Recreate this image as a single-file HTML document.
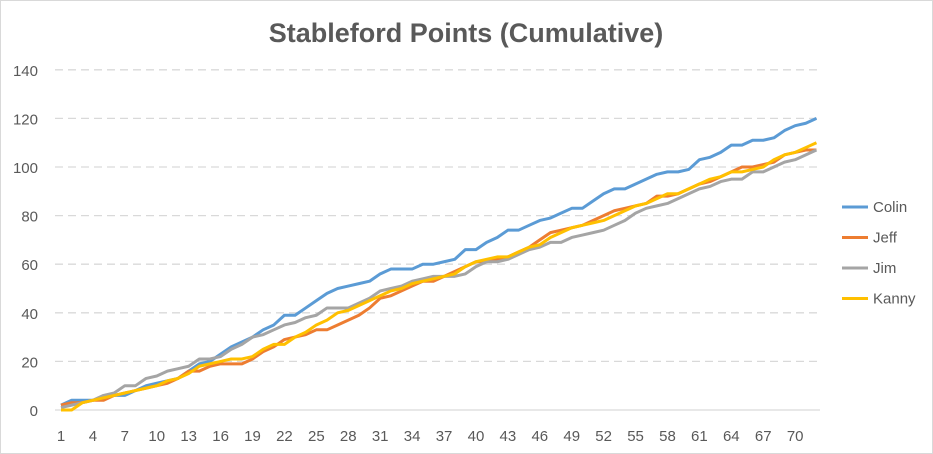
<!DOCTYPE html>
<html><head><meta charset="utf-8"><style>
body{margin:0;background:#fff}
svg{display:block;font-family:"Liberation Sans",sans-serif}
</style></head><body>
<svg width="933" height="454">
<rect x="0.5" y="0.5" width="932" height="453" fill="#fff" stroke="#d9d9d9"/>
<text x="466" y="42" text-anchor="middle" font-size="27" font-weight="bold" fill="#595959">Stableford Points (Cumulative)</text>
<g id="grid"></g><g id="axes"></g><g id="series"></g><g id="legend"></g>
</svg>
<script>
const categories = Array.from({length:72},(_,i)=>i+1);
const colin=[2,4,4,4,5,6,6,8,10,11,12,13,16,19,20,23,26,28,30,33,35,39,39,42,45,48,50,51,52,53,56,58,58,58,60,60,61,62,66,66,69,71,74,74,76,78,79,81,83,83,86,89,91,91,93,95,97,98,98,99,103,104,106,109,109,111,111,112,115,117,118,120];
const jeff=[2,3,3,4,4,6,7,8,9,10,11,13,16,16,18,19,19,19,21,24,26,29,30,31,33,33,35,37,39,42,46,47,49,51,53,53,55,57,59,61,61,62,63,65,67,70,73,74,75,76,78,80,82,83,84,85,88,88,89,91,93,94,96,98,100,100,101,102,105,106,107,107];
const jim=[1,2,3,4,6,7,10,10,13,14,16,17,18,21,21,22,25,27,30,31,33,35,36,38,39,42,42,42,44,46,49,50,51,53,54,55,55,55,56,59,61,61,62,64,66,67,69,69,71,72,73,74,76,78,81,83,84,85,87,89,91,92,94,95,95,98,98,100,102,103,105,107];
const kanny=[0,0,3,4,5,6,7,8,9,10,12,13,15,18,19,20,21,21,22,25,27,27,30,32,35,37,40,41,43,45,47,49,50,52,53,54,55,56,59,61,62,63,63,65,67,68,71,73,75,76,77,78,80,82,84,85,87,89,89,91,93,95,96,98,98,99,100,103,105,106,108,110];
const yTicks=[0,20,40,60,80,100,120,140];
const seriesNames=["Colin","Jeff","Jim","Kanny"];
const seriesColors=["#5b9bd5","#ed7d31","#a5a5a5","#ffc000"];
const seriesData=[colin,jeff,jim,kanny];
const NS="http://www.w3.org/2000/svg";
const x=v=>61+(v-1)*10.64;
const y=v=>410-v*2.43;
function mk(tag,attrs,parent,txt){const e=document.createElementNS(NS,tag);for(const k in attrs)e.setAttribute(k,attrs[k]);if(txt!==undefined)e.textContent=txt;document.getElementById(parent).appendChild(e);return e;}
yTicks.forEach(t=>{
  const l=mk('line',{x1:55,x2:820,y1:y(t),y2:y(t),stroke:'#d9d9d9','stroke-width':1.3,'stroke-dasharray':t===0?'none':'8,5'},'grid');
  
  
  const tx=mk('text',{x:38,y:y(t)+6,'text-anchor':'end','font-size':15,fill:'#595959'},'axes',String(t));
  
  
});
categories.forEach(c=>{ if((c-1)%3===0){
  const tx=mk('text',{x:x(c),y:441,'text-anchor':'middle','font-size':15,fill:'#595959'},'axes',String(c));
  
  
}});
seriesData.forEach((d,i)=>{
  const p=mk('polyline',{points:d.map((v,j)=>x(categories[j])+','+y(v)).join(' '),fill:'none',stroke:seriesColors[i],'stroke-width':3,'stroke-linejoin':'round'},'series');
  
  
  const ly=207+i*30.5;
  const ll=mk('line',{x1:842,x2:868,y1:ly,y2:ly,stroke:seriesColors[i],'stroke-width':3},'legend');
  
  
  const lt=mk('text',{x:873,y:ly+5,'font-size':15,fill:'#595959'},'legend',seriesNames[i]);
  
  
});
</script>
</body></html>
